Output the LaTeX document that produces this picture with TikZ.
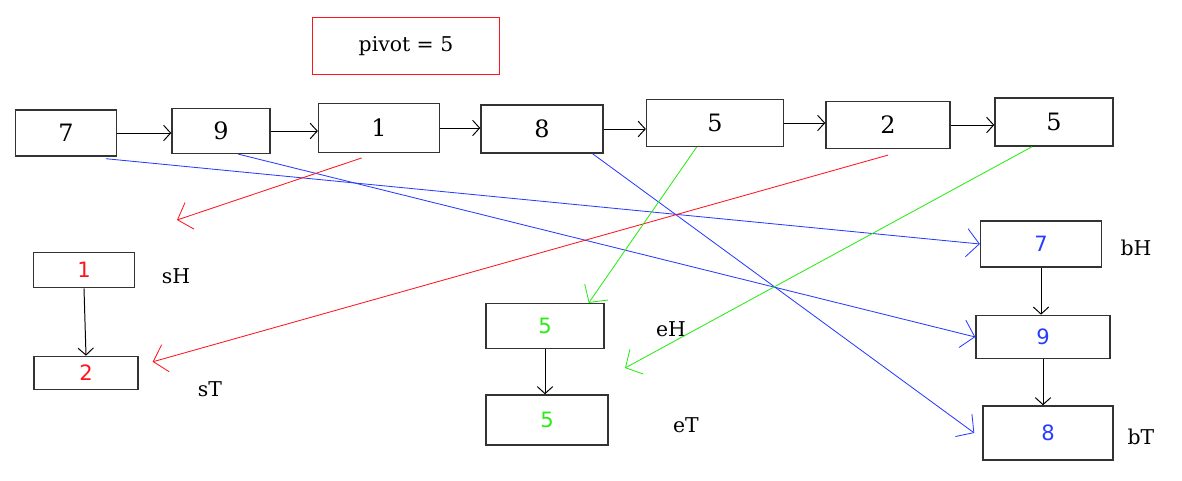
\documentclass[tikz,border=0pt]{standalone}
\usepackage{fontspec}
\setmainfont{DejaVu Serif}
\newfontfamily\numfont{DejaVu Sans}
\usetikzlibrary{arrows.meta}

\definecolor{pblue}{RGB}{40,60,255}
\definecolor{pred}{RGB}{255,20,30}
\definecolor{pgreen}{RGB}{40,235,20}

\begin{document}
\begin{tikzpicture}[x=0.025cm, y=-0.025cm,
    box/.style={draw=black!80, line width=1pt, rectangle, inner sep=0pt},
    bignum/.style={font=\fontsize{17}{19}\selectfont},
    smallnum/.style={font=\numfont\fontsize{15}{17}\selectfont},
    tag/.style={font=\fontsize{14.5}{17}\selectfont},
    link/.style={line width=0.7pt, -{Straight Barb[length=5pt,width=11pt]}},
    move/.style={line width=0.6pt, -{Straight Barb[length=9pt,width=20pt]}}]
            \useasboundingbox (0,0) rectangle (1182,480);

            % Pivot
            \node[draw=pred, line width=0.8pt, minimum width=4.68cm, minimum height=1.43cm, tag] (pv) at (406,46) {pivot = 5\hspace{0.65cm}};

            % List
            \node[box, bignum, minimum width=2.52cm, minimum height=1.15cm] (t1) at (66,133) {7};
            \node[box, bignum, minimum width=2.45cm, minimum height=1.12cm] (t2) at (221,131) {9};
            \node[box, bignum, minimum width=3.02cm, minimum height=1.22cm] (t3) at (379,128) {1};
            \node[box, bignum, minimum width=3.05cm, minimum height=1.2cm] (t4) at (542,129) {8};
            \node[box, bignum, minimum width=3.42cm, minimum height=1.17cm] (t5) at (715,123) {5};
            \node[box, bignum, minimum width=3.1cm, minimum height=1.17cm] (t6) at (888,125) {2};
            \node[box, bignum, minimum width=2.95cm, minimum height=1.2cm] (t7) at (1054,122) {5};

            % Smaller
            \node[box, smallnum, text=pred, minimum width=2.52cm, minimum height=0.88cm] (s1) at (84,270) {1};
            \node[box, smallnum, text=pred, minimum width=2.6cm, minimum height=0.83cm] (s2) at (86,373) {2};
            \node[tag] (sH) at (176,276) {sH};
            \node[tag] (sT) at (210,389) {sT};

            % Equal
            \node[box, smallnum, text=pgreen, minimum width=2.95cm, minimum height=1.12cm] (e1) at (545,326) {5};
            \node[box, smallnum, text=pgreen, minimum width=3.05cm, minimum height=1.25cm] (e2) at (547,420) {5};
            \node[tag] (eH) at (671,329) {eH};
            \node[tag] (eT) at (686,425) {eT};

            % Bigger
            \node[box, smallnum, text=pblue, minimum width=3.02cm, minimum height=1.15cm] (b1) at (1041,244) {7};
            \node[box, smallnum, text=pblue, minimum width=3.35cm, minimum height=1.08cm] (b2) at (1043,337) {9};
            \node[box, smallnum, text=pblue, minimum width=3.25cm, minimum height=1.35cm] (b3) at (1048,433) {8};
            \node[tag] (bH) at (1136,248) {bH};
            \node[tag] (bT) at (1141,437) {bT};

            \coordinate (r1) at (177,220);
            \coordinate (g2) at (625,368);

            % Next pointers
            \draw[link] (t1.east) -- (t1.east -| t2.west);
            \draw[link] (t2.east) -- (t2.east -| t3.west);
            \draw[link] (t3.east) -- (t3.east -| t4.west);
            \draw[link] (t4.east) -- (t4.east -| t5.west);
            \draw[link] (t5.east) -- (t5.east -| t6.west);
            \draw[link] (t6.east) -- (t6.east -| t7.west);
            \draw[link] (s1.south) -- (s2.north);
            \draw[link] (e1.south) -- (e1.south |- e2.north);
            \draw[link] (b1.south) -- (b1.south |- b2.north);
            \draw[link] (b2.south) -- (b2.south |- b3.north);

            % Moves
            \draw[move, pblue] ([xshift=-0.28cm,yshift=-0.05cm]t1.south east) -- (b1.west);
            \draw[move, pblue] ([xshift=0.43cm]t2.south) -- (b2.west);
            \draw[move, pblue] ([xshift=-0.28cm]t4.south east) -- ([xshift=-0.2cm]b3.west);
            \draw[move, pred] ([xshift=-0.43cm,yshift=-0.12cm]t3.south) -- (r1);
            \draw[move, pred] ([yshift=-0.15cm]t6.south) -- ([xshift=0.35cm,yshift=0.28cm]s2.east);
            \draw[move, pgreen] ([xshift=-0.46cm]t5.south) -- ([xshift=-0.4cm]e1.north east);
            \draw[move, pgreen] ([xshift=-0.55cm]t7.south) -- (g2);

\end{tikzpicture}
\end{document}
